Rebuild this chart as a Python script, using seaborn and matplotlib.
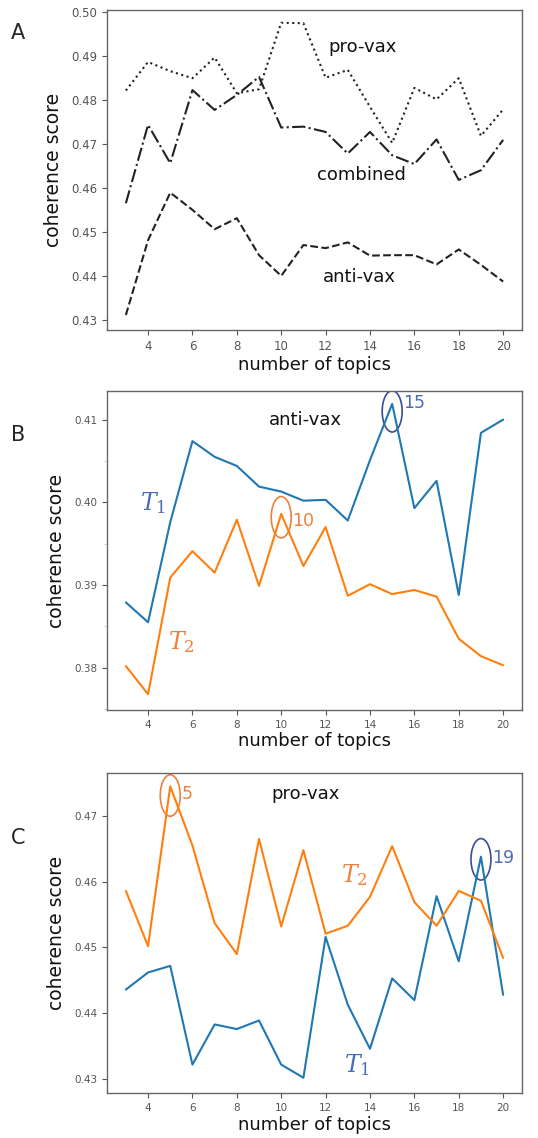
import numpy as np
import pandas as pd
import matplotlib
matplotlib.use("Agg")
import matplotlib.pyplot as plt
from matplotlib.patches import Ellipse
from matplotlib.ticker import MultipleLocator
import seaborn as sns

topics = list(range(3, 21))

# panel A: coherence per dataset
a_provax = [0.4821, 0.4886, 0.4865, 0.4849, 0.4896, 0.4815, 0.4824, 0.4975, 0.4974,
            0.4850, 0.4868, 0.4784, 0.4702, 0.4827, 0.4801, 0.4849, 0.4718, 0.4778]
a_combined = [0.4565, 0.4743, 0.4656, 0.4822, 0.4777, 0.4811, 0.4852, 0.4737, 0.4739,
              0.4727, 0.4678, 0.4727, 0.4674, 0.4654, 0.4710, 0.4618, 0.4640, 0.4709]
a_antivax = [0.4311, 0.4481, 0.4589, 0.4550, 0.4506, 0.4531, 0.4447, 0.4400, 0.4470,
             0.4463, 0.4476, 0.4446, 0.4447, 0.4447, 0.4426, 0.4460, 0.4425, 0.4387]

# panel B: anti-vax, T1 / T2
b_t1 = [0.3879, 0.3855, 0.3976, 0.4074, 0.4055, 0.4044, 0.4019, 0.4013, 0.4002,
        0.4003, 0.3978, 0.4051, 0.4119, 0.3993, 0.4026, 0.3888, 0.4084, 0.4100]
b_t2 = [0.3802, 0.3768, 0.3909, 0.3941, 0.3915, 0.3979, 0.3899, 0.3986, 0.3923,
        0.3970, 0.3887, 0.3901, 0.3889, 0.3894, 0.3886, 0.3835, 0.3814, 0.3803]

# panel C: pro-vax, T1 / T2
c_t1 = [0.4436, 0.4462, 0.4472, 0.4322, 0.4383, 0.4376, 0.4389, 0.4322, 0.4302,
        0.4516, 0.4413, 0.4346, 0.4453, 0.4420, 0.4578, 0.4479, 0.4638, 0.4428]
c_t2 = [0.4586, 0.4502, 0.4745, 0.4655, 0.4537, 0.4490, 0.4665, 0.4532, 0.4648,
        0.4521, 0.4533, 0.4577, 0.4654, 0.4569, 0.4533, 0.4586, 0.4571, 0.4484]

BLUE = "#1f77b4"
ORANGE = "#ff7f0e"
LBL_BLUE = "#4a6cb3"
LBL_ORANGE = "#f07f3c"
DARK = "#222222"

sns.set_style("ticks")
plt.rcParams['font.family'] = ['DejaVu Sans']
plt.rcParams['mathtext.fontset'] = 'dejavuserif'

fig = plt.figure(figsize=(5.38, 11.38), dpi=100)
W, H = 538, 1138


def add_axes(top, bottom, left=107, right=522):
    return fig.add_axes([left / W, 1 - bottom / H, (right - left) / W, (bottom - top) / H])


def style_axes(ax, tick_size):
    ax.set_xlim(2.15, 20.85)
    ax.set_xticks(range(4, 21, 2))
    for sp in ax.spines.values():
        sp.set_color("#666666")
        sp.set_linewidth(1.0)
    ax.tick_params(colors="#555555", labelsize=tick_size, length=3.5, width=0.8)
    ax.set_xlabel("number of topics", fontsize=13, color="#111111", labelpad=2)
    ax.set_ylabel("coherence score", fontsize=13.5, color="#111111", labelpad=6)


# ---- A ----
axA = add_axes(10, 330)
dfA = pd.DataFrame({"topics": topics, "pro": a_provax, "comb": a_combined, "anti": a_antivax})
sns.lineplot(data=dfA, x="topics", y="pro", ax=axA, color=DARK, linestyle=":", lw=1.5)
sns.lineplot(data=dfA, x="topics", y="comb", ax=axA, color=DARK, linestyle="-.", lw=1.5)
sns.lineplot(data=dfA, x="topics", y="anti", ax=axA, color=DARK, linestyle="--", lw=1.5)
axA.set_ylim(0.4277, 0.5004)
axA.set_yticks(np.arange(0.43, 0.501, 0.01))
axA.set_yticklabels([f"{v:.2f}" for v in np.arange(0.43, 0.501, 0.01)])
style_axes(axA, 8.5)
axA.text(13.65, 0.4920, "pro-vax", fontsize=13, ha="center", va="center", color="#111111")
axA.text(13.6, 0.4629, "combined", fontsize=13, ha="center", va="center", color="#111111")
axA.text(13.5, 0.4397, "anti-vax", fontsize=13, ha="center", va="center", color="#111111")
fig.text(18 / W, 1 - 33 / H, "A", fontsize=15, ha="center", va="center")

# ---- B ----
axB = add_axes(391, 710)
dfB = pd.DataFrame({"topics": topics, "t1": b_t1, "t2": b_t2})
sns.lineplot(data=dfB, x="topics", y="t1", ax=axB, color=BLUE, lw=1.5)
sns.lineplot(data=dfB, x="topics", y="t2", ax=axB, color=ORANGE, lw=1.5)
axB.set_ylim(0.37489, 0.41346)
axB.set_yticks([0.38, 0.39, 0.40, 0.41])
axB.set_yticklabels(["0.38", "0.39", "0.40", "0.41"])
axB.yaxis.set_minor_locator(MultipleLocator(0.005))
axB.tick_params(axis="y", which="minor", length=2, width=0.5, colors="#bbbbbb")
style_axes(axB, 7.5)
axB.text(11.1, 0.4100, "anti-vax", fontsize=13, ha="center", va="center", color="#111111")
axB.text(4.2, 0.3999, "$T_1$", fontsize=17, ha="center", va="center", color=LBL_BLUE)
axB.text(5.5, 0.3831, "$T_2$", fontsize=17, ha="center", va="center", color=LBL_ORANGE)
axB.add_patch(Ellipse((15, 0.4110), 0.9, 0.0050, fill=False, ec="#3a4f8f", lw=1.2))
axB.text(15.5, 0.4120, "15", fontsize=12.5, ha="left", va="center", color=LBL_BLUE)
axB.add_patch(Ellipse((10, 0.3982), 0.9, 0.0050, fill=False, ec=LBL_ORANGE, lw=1.2))
axB.text(10.5, 0.3977, "10", fontsize=12.5, ha="left", va="center", color=LBL_ORANGE)
fig.text(18 / W, 1 - 435 / H, "B", fontsize=15, ha="center", va="center")

# ---- C ----
axC = add_axes(773, 1093)
dfC = pd.DataFrame({"topics": topics, "t1": c_t1, "t2": c_t2})
sns.lineplot(data=dfC, x="topics", y="t1", ax=axC, color=BLUE, lw=1.5)
sns.lineplot(data=dfC, x="topics", y="t2", ax=axC, color=ORANGE, lw=1.5)
axC.set_ylim(0.42788, 0.47652)
axC.set_yticks([0.43, 0.44, 0.45, 0.46, 0.47])
axC.set_yticklabels(["0.43", "0.44", "0.45", "0.46", "0.47"])
style_axes(axC, 7.5)
axC.text(11.1, 0.4734, "pro-vax", fontsize=13, ha="center", va="center", color="#111111")
axC.text(13.3, 0.4610, "$T_2$", fontsize=17, ha="center", va="center", color=LBL_ORANGE)
axC.text(13.4, 0.4322, "$T_1$", fontsize=17, ha="center", va="center", color=LBL_BLUE)
axC.add_patch(Ellipse((5, 0.4731), 0.9, 0.0063, fill=False, ec=LBL_ORANGE, lw=1.2))
axC.text(5.5, 0.4733, "5", fontsize=12.5, ha="left", va="center", color=LBL_ORANGE)
axC.add_patch(Ellipse((19, 0.4634), 0.9, 0.0063, fill=False, ec="#3a4f8f", lw=1.2))
axC.text(19.5, 0.4636, "19", fontsize=12.5, ha="left", va="center", color=LBL_BLUE)
fig.text(18 / W, 1 - 838 / H, "C", fontsize=15, ha="center", va="center")

fig.savefig("out.png", dpi=100)
